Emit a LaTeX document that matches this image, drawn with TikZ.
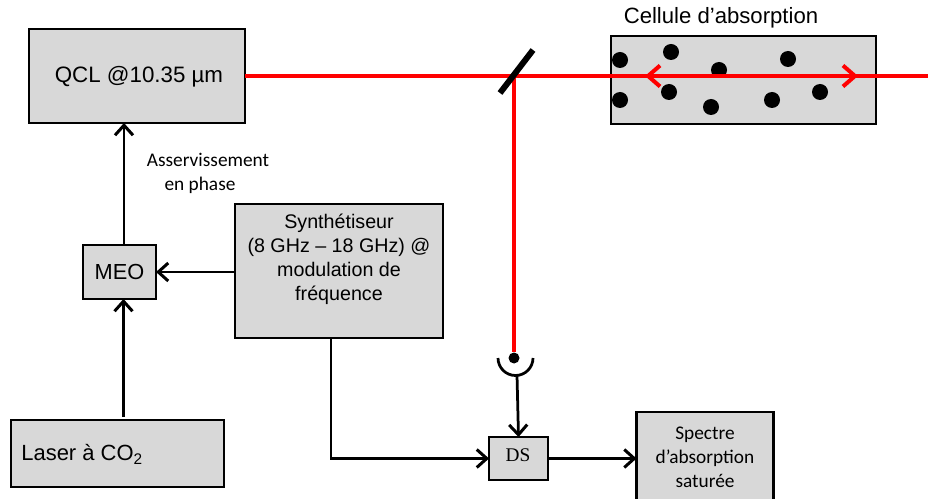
\documentclass[tikz,border=0pt]{standalone}
\usepackage{fontspec}
\setmainfont{Liberation Sans}
\newfontfamily\calibrifont{Carlito}
\newfontfamily\timesfont{Liberation Serif}
\usetikzlibrary{arrows.meta}
\definecolor{boxgray}{RGB}{216,216,216}
\definecolor{beamred}{RGB}{255,0,0}
\tikzset{
  boxnode/.style={draw=black,line width=.58mm,fill=boxgray,inner sep=0pt,outer sep=0pt},
  sig/.style={line width=.55mm,black,-{Straight Barb[length=2mm,width=3.6mm,line width=.6mm]}},
  beam/.style={line width=.85mm,beamred},
  lbl/.style={align=center,inner sep=0pt},
  calib/.style={lbl,font=\calibrifont\fontsize{11}{13.6}\selectfont},
}
\begin{document}
\begin{tikzpicture}[x=.2mm,y=-.2mm]
\useasboundingbox (0,0) rectangle (928,499);
\clip (0,0) rectangle (928,499);
% Boxes
\node[boxnode,minimum width=43.2mm,minimum height=18.8mm] (qcl) at (137,76) {};
\node[boxnode,minimum width=53mm,minimum height=17.6mm] (cell) at (743.5,80) {};
\node[boxnode,minimum width=41.6mm,minimum height=26.8mm] (synth) at (339,271) {};
\node[boxnode,minimum width=14.6mm,minimum height=10.8mm,font=\fontsize{12.4}{14}\selectfont] (meo) at (119.5,272) {MEO};
\node[boxnode,minimum width=42.6mm,minimum height=13.4mm] (laser) at (117.5,453.5) {};
\node[boxnode,minimum width=11.8mm,minimum height=8.6mm] (ds) at (518.5,458.5) {};
\node[boxnode,minimum width=27.4mm,minimum height=20mm] (spectre) at (705,462) {};
% Texts
\node[lbl,font=\fontsize{12.7}{14}\selectfont] (qcltxt) at (139,76.5) {QCL @10.35 µm};
\node[lbl,font=\fontsize{12.6}{14}\selectfont] (celltxt) at (721,18) {Cellule d’absorption};
\node[lbl,font=\fontsize{11.2}{13.6}\selectfont] (synthtxt) at (339,259.5) {Synthétiseur\\(8 GHz – 18 GHz) @\\modulation de\\fréquence};
\node[lbl,anchor=west,font=\fontsize{12.5}{14}\selectfont] (lasertxt) at (21,454.5) {Laser à CO\textsubscript{2}};
\node[calib] (asstxt) at (208,173) {Asservissement\\en phase\hspace*{3.2mm}};
\node[calib] (spectxt) at (705,457) {Spectre\\d’absorption\\saturée};
\node[lbl,font=\timesfont\fontsize{11}{13}\selectfont] (dstxt) at (518,455) {DS};
% Molecules
\foreach \px/\py in {620/60,671/52,719/70,788/59,620/100,669/92,711/107,772/100,820/92}
  \fill[black] (\px,\py) circle (8);
% Beams
\coordinate (mir) at (514,76);
\coordinate (out) at (928,76);
\node[circle,fill=black,inner sep=0pt,minimum size=2.2mm] (det) at (514,358) {};
\draw[beam] (qcl.east) -- (out);
\draw[beam] (mir) -- (det);
\draw[line width=1.2mm,black] (500,93) -- (533,50);
\draw[beam,{Straight Barb[length=2.4mm,width=4.2mm,line width=.8mm]}-{Straight Barb[length=2.4mm,width=4.2mm,line width=.8mm]}] (645,76) -- (858,76);
% Detector
\draw[line width=.55mm,black] (498,358) arc (180:0:17.5);
\coordinate (cup) at (517,375);
% Signals
\draw[sig] ([xshift=.9mm]meo.north) -- ([xshift=.9mm]meo.north |- qcl.south);
\draw[sig] ([xshift=.8mm,yshift=.6mm]laser.north -| meo.south) -- ([xshift=.8mm]meo.south);
\draw[sig] (synth.west |- meo.east) -- (meo.east);
\draw[sig] ([xshift=-1.6mm]synth.south) |- (ds.west);
\draw[sig] (cup) -- (ds.north);
\draw[sig] (ds.east) -- (ds.east -| spectre.west);
\end{tikzpicture}
\end{document}
